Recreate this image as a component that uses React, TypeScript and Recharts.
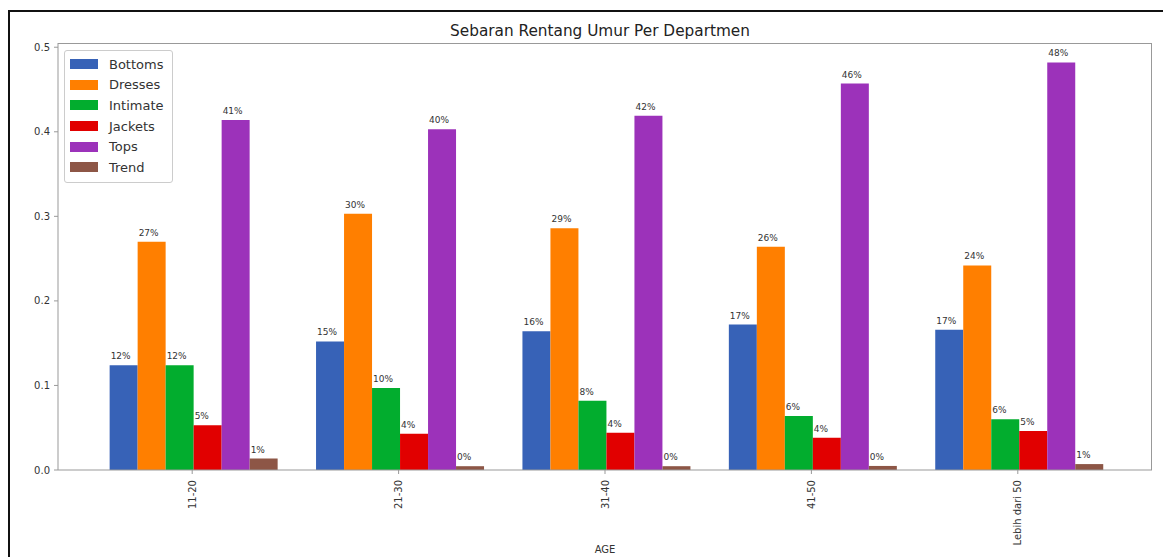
import React from 'react';
import {
  BarChart,
  Bar,
  XAxis,
  YAxis,
  Legend,
  LabelList,
  Label,
  CartesianGrid
} from 'recharts';

const ageGroups = ['11-20', '21-30', '31-40', '41-50', 'Lebih dari 50'];

const bottoms = [0.124, 0.152, 0.164, 0.172, 0.166];
const dresses = [0.27, 0.303, 0.286, 0.264, 0.242];
const intimate = [0.124, 0.097, 0.082, 0.064, 0.06];
const jackets = [0.053, 0.043, 0.044, 0.038, 0.046];
const tops = [0.414, 0.403, 0.419, 0.457, 0.482];
const trend = [0.0135, 0.0045, 0.0045, 0.0048, 0.007];

const yTicks = [0, 0.1, 0.2, 0.3, 0.4, 0.5];

const series = [
  { key: 'Bottoms', values: bottoms, color: '#3762b7' },
  { key: 'Dresses', values: dresses, color: '#ff7f00' },
  { key: 'Intimate', values: intimate, color: '#02ad2e' },
  { key: 'Jackets', values: jackets, color: '#e10000' },
  { key: 'Tops', values: tops, color: '#9c32ba' },
  { key: 'Trend', values: trend, color: '#8d5646' }
];

const data = ageGroups.map((age, i) => {
  const row: Record<string, string | number> = { age };
  series.forEach(s => {
    row[s.key] = s.values[i];
  });
  return row;
});

const FONT = '"DejaVu Sans", sans-serif';
const TEXT = '#333';
const SPINE = '#999';

const pct = (v: number) => `${Math.round(v * 100)}%`;

const BarLabel = (props: any) => {
  const { x, y, value } = props;
  return (
    <text x={x + 1} y={y - 6} fontSize={9} fill={TEXT} fontFamily={FONT}>
      {pct(Number(value))}
    </text>
  );
};

const AgeTick = (props: any) => {
  const { x, y, payload } = props;
  return (
    <text
      x={x}
      y={y}
      transform={`rotate(-90, ${x}, ${y})`}
      textAnchor="end"
      dy="0.35em"
      fontSize={10}
      fill={TEXT}
      fontFamily={FONT}
    >
      {payload.value}
    </text>
  );
};

const LegendBox = () => (
  <div
    style={{
      border: '1px solid #ccc',
      borderRadius: 3,
      background: 'rgba(255,255,255,0.8)',
      padding: '3px 8px 4px 5px',
      fontFamily: FONT,
      fontSize: 13,
      color: TEXT
    }}
  >
    {series.map(s => (
      <div key={s.key} style={{ display: 'flex', alignItems: 'center', height: 20.6 }}>
        <span style={{ width: 28, height: 10, background: s.color, marginRight: 11 }} />
        <span>{s.key}</span>
      </div>
    ))}
  </div>
);

export default function App() {
  return (
    <div style={{ position: 'relative', width: 1163, height: 557, background: '#fff' }}>
      <style>{'body{margin:0;overflow:hidden}'}</style>
      <div
        style={{
          position: 'absolute',
          left: 8,
          top: 10,
          right: 0,
          bottom: 0,
          borderTop: '2px solid #111',
          borderLeft: '2px solid #111'
        }}
      />
      <div
        style={{
          position: 'absolute',
          top: 22,
          left: 53,
          width: 1094,
          textAlign: 'center',
          fontFamily: FONT,
          fontSize: 15.3,
          color: '#222'
        }}
      >
        Sebaran Rentang Umur Per Departmen
      </div>
      <BarChart
        width={1163}
        height={557}
        data={data}
        margin={{ top: 43, right: 11, left: 0, bottom: 0 }}
        barCategoryGap="10%"
        barGap={0}
        style={{ position: 'absolute', left: 0, top: 0 }}
      >
        <CartesianGrid
          stroke={SPINE}
          syncWithTicks={false}
          horizontalCoordinatesGenerator={({ offset }: any) => [offset.top + 0.5]}
          verticalCoordinatesGenerator={({ offset }: any) => [offset.left + offset.width - 0.5]}
        />
        <XAxis
          dataKey="age"
          height={87}
          padding={{ left: 31, right: 31 }}
          stroke={SPINE}
          tickSize={4}
          tickMargin={6}
          tick={<AgeTick />}
          interval={0}
        >
          <Label
            value="AGE"
            position="insideBottom"
            offset={4}
            fontSize={10}
            fill={TEXT}
            fontFamily={FONT}
          />
        </XAxis>
        <YAxis
          width={58}
          domain={[0, 0.505]}
          ticks={yTicks}
          tickFormatter={(v: number) => v.toFixed(1)}
          stroke={SPINE}
          tickSize={4}
          tickMargin={4}
          tick={{ fontSize: 10, fill: TEXT, fontFamily: FONT }}
        />
        <Legend
          layout="vertical"
          verticalAlign="middle"
          align="center"
          content={<LegendBox />}
          wrapperStyle={{ left: 64, top: 50, width: 'auto', height: 'auto' }}
        />
        {series.map(s => (
          <Bar key={s.key} dataKey={s.key} fill={s.color} isAnimationActive={false}>
            <LabelList dataKey={s.key} content={<BarLabel />} />
          </Bar>
        ))}
      </BarChart>
    </div>
  );
}
